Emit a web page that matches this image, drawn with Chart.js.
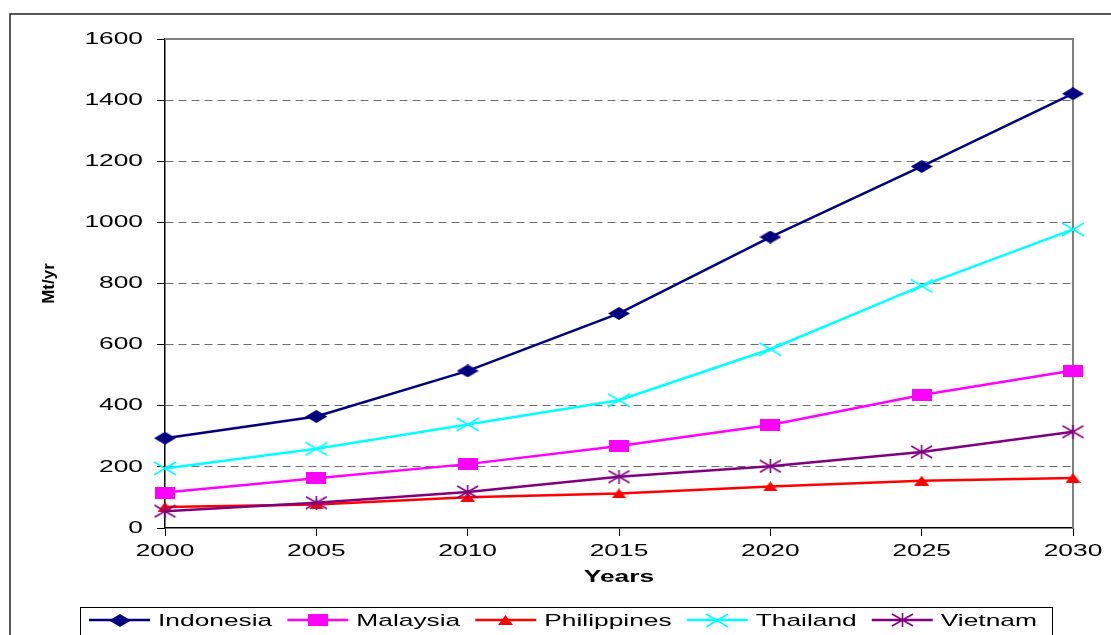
<!DOCTYPE html>
<html><head><meta charset="utf-8">
<script src="https://cdn.jsdelivr.net/npm/chart.js@4.4.1/dist/chart.umd.min.js"></script>
<style>html,body{margin:0;padding:0;background:#fff;}#wrap{width:1111px;height:635px;}</style>
</head><body><div id="wrap"><canvas id="c" width="1111" height="635"></canvas></div>
<script>
const categories = ['2000','2005','2010','2015','2020','2025','2030'];
const seriesNames = ['Indonesia','Malaysia','Philippines','Thailand','Vietnam'];
const indonesia   = [294, 365, 514, 702, 952, 1183, 1421];
const malaysia    = [116, 163, 209, 268, 337, 435, 515];
const philippines = [69, 77, 101, 113, 136, 155, 164];
const thailand    = [195, 259, 339, 418, 585, 792, 977];
const vietnam     = [55, 83, 118, 168, 202, 249, 315];
const yTicks = [0,200,400,600,800,1000,1200,1400,1600];
const xTitle = 'Years';
const yTitle = 'Mt/yr';

const FONT = '"Liberation Sans", Arial, sans-serif';
const SX = 1.55;

function mk(w, h, draw){
  const c = document.createElement('canvas'); c.width = w; c.height = h;
  draw(c.getContext('2d'), w, h); return c;
}
const mDiamond = mk(22, 13, (g,w,h)=>{g.fillStyle='#000080';g.beginPath();g.moveTo(w/2,0);g.lineTo(w,h/2);g.lineTo(w/2,h);g.lineTo(0,h/2);g.closePath();g.fill();});
const mSquare = mk(20, 12, (g,w,h)=>{g.fillStyle='#FF00FF';g.fillRect(0,0,w,h);});
const mTri = mk(15, 10, (g,w,h)=>{g.fillStyle='#FF0000';g.beginPath();g.moveTo(w/2,0);g.lineTo(w,h);g.lineTo(0,h);g.closePath();g.fill();});
const mX = mk(24, 15, (g,w,h)=>{g.strokeStyle='#00FFFF';g.lineWidth=1.6;g.beginPath();g.moveTo(1,1);g.lineTo(w-1,h-1);g.moveTo(w-1,1);g.lineTo(1,h-1);g.stroke();});
const mStar = mk(23, 14, (g,w,h)=>{g.strokeStyle='#800080';g.lineWidth=1.6;g.beginPath();g.moveTo(1,1);g.lineTo(w-1,h-1);g.moveTo(w-1,1);g.lineTo(1,h-1);g.moveTo(w/2,0);g.lineTo(w/2,h);g.stroke();});

const colors = ['#000080','#FF00FF','#FF0000','#00FFFF','#800080'];
const markers = [mDiamond, mSquare, mTri, mX, mStar];
const values = [indonesia, malaysia, philippines, thailand, vietnam];

function patchCtx(ctx){
  if (ctx.__patched) return; ctx.__patched = true;
  const f = ctx.fillText, mt = ctx.measureText;
  ctx.fillText = function(text, x, y, maxWidth){
    const m = this.getTransform();
    if (Math.abs(m.b) > 1e-6 || Math.abs(m.c) > 1e-6) {
      return f.call(this, text, x, y);
    }
    const px = m.a*x + m.c*y + m.e;
    this.save();
    this.setTransform(SX*m.a, m.b, SX*m.c, m.d, SX*m.e + px*(1-SX), m.f);
    f.call(this, text, x, y);
    this.restore();
  };
  ctx.measureText = function(t){
    const r = mt.call(this, t);
    return {width: r.width*SX, actualBoundingBoxAscent: r.actualBoundingBoxAscent, actualBoundingBoxDescent: r.actualBoundingBoxDescent, actualBoundingBoxLeft: r.actualBoundingBoxLeft*SX, actualBoundingBoxRight: r.actualBoundingBoxRight*SX};
  };
}

const framePlugin = {
  id: 'frame',
  beforeInit(chart){ patchCtx(chart.ctx); },
  beforeDatasetsDraw(chart){
    const {ctx, chartArea: a} = chart;
    ctx.save();
    ctx.strokeStyle = '#808080'; ctx.lineWidth = 2;
    ctx.beginPath(); ctx.moveTo(a.left, a.top); ctx.lineTo(a.right, a.top); ctx.lineTo(a.right, a.bottom); ctx.stroke();
    ctx.restore();
  },
  afterDraw(chart){
    const ctx = chart.ctx;
    ctx.save();
    ctx.strokeStyle = '#222'; ctx.lineWidth = 1.5;
    ctx.beginPath(); ctx.moveTo(10, 650); ctx.lineTo(10, 14); ctx.lineTo(1120, 14); ctx.stroke();
    ctx.strokeStyle = '#000'; ctx.lineWidth = 1;
    ctx.strokeRect(80.5, 607.5, 972, 40);
    ctx.font = '17px ' + FONT; ctx.fillStyle = '#000'; ctx.textBaseline = 'middle'; ctx.textAlign = 'left';
    let x = 89; const y = 620;
    chart.data.datasets.forEach((ds, i) => {
      ctx.strokeStyle = colors[i]; ctx.lineWidth = 2.5;
      ctx.beginPath(); ctx.moveTo(x, y); ctx.lineTo(x+61, y); ctx.stroke();
      const mk = markers[i];
      ctx.drawImage(mk, Math.round(x + 30.5 - mk.width/2), Math.round(y - mk.height/2));
      ctx.fillText(ds.label, x + 69, y + 1);
      x += 69 + ctx.measureText(ds.label).width + 15;
    });
    ctx.restore();
  }
};

new Chart(document.getElementById('c'), {
  type: 'line',
  data: {
    labels: categories,
    datasets: seriesNames.map((n, i) => ({
      label: n, data: values[i],
      borderColor: colors[i], backgroundColor: colors[i],
      borderWidth: 2.5, pointStyle: markers[i], pointRadius: 8, pointHoverRadius: 8,
      tension: 0, fill: false, clip: false, order: 5 - i
    }))
  },
  options: {
    responsive: false, animation: false,
    events: [],
    layout: {padding: {left: 39, top: 39, right: 38, bottom: 47}},
    plugins: {legend: {display: false}, tooltip: {enabled: false}},
    scales: {
      x: {
        type: 'category', offset: false,
        afterFit(s){ s.height = 60; },
        grid: {drawOnChartArea: false, drawTicks: true, tickLength: 8, tickColor: '#000', tickWidth: 1},
        border: {display: true, color: '#000', width: 1.5},
        ticks: {color: '#000', font: {family: FONT, size: 17}, padding: 5, maxRotation: 0, autoSkip: false},
        title: {display: true, text: xTitle, color: '#000', font: {family: FONT, size: 17, weight: 'bold'}, padding: 0}
      },
      y: {
        min: 0, max: 1600,
        afterFit(s){ s.width = 126; },
        afterBuildTicks(s){ s.ticks = yTicks.map(v => ({value: v})); },
        grid: {
          color: c => (c.tick && (c.tick.value === 0 || c.tick.value === 1600)) ? 'rgba(0,0,0,0)' : '#6e6e6e',
          lineWidth: 1, drawTicks: true, tickLength: 8, tickColor: '#000', tickWidth: 1, tickBorderDash: []
        },
        border: {display: true, color: '#000', width: 1.5, dash: [8,5]},
        ticks: {color: '#000', font: {family: FONT, size: 17}, padding: 14, callback: v => String(v)},
        title: {display: true, text: yTitle, color: '#000', font: {family: FONT, size: 17, weight: 'bold'}, padding: 0}
      }
    }
  },
  plugins: [framePlugin]
});
</script></body></html>
